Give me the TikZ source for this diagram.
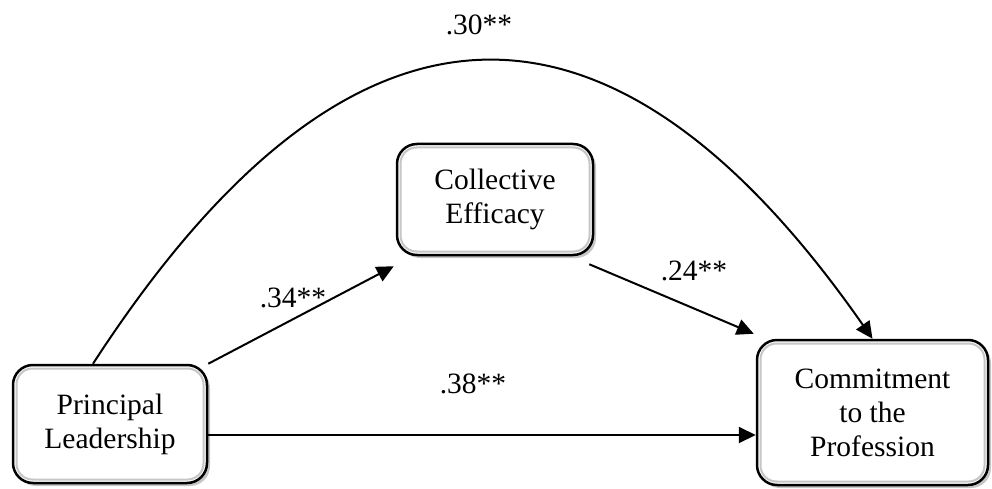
\documentclass[tikz,border=0pt]{standalone}
\usepackage{fontspec}
\setmainfont{Liberation Serif}
\usepackage{tikz}
\usetikzlibrary{arrows.meta,positioning,shadows}

\begin{document}
\begin{tikzpicture}[
    x=1pt, y=-1pt,
    varbox/.style={
        draw, line width=2.5pt, rounded corners=20pt, align=center,
        fill=white, inner sep=0pt, font=\fontsize{29.5}{34}\selectfont,
        drop shadow={shadow xshift=3pt, shadow yshift=-3pt, fill=gray!45, opacity=1},
        path picture={
            \draw[gray!45, line width=2pt, rounded corners=16pt]
                ([shift={(3.5pt,-3.5pt)}]path picture bounding box.north west)
                rectangle ([shift={(-3.5pt,3.5pt)}]path picture bounding box.south east);
        }
    },
    coef/.style={font=\fontsize{29.5}{34}\selectfont, inner sep=0pt},
    edge/.style={-{Triangle[length=17pt,width=16pt]}, line width=2pt}
]
\useasboundingbox (0,0) rectangle (992,489);

% variables
\node[varbox, minimum width=194pt, minimum height=118pt] (lead) at (110,424) {Principal\\Leadership};
\node[varbox, minimum width=196pt, minimum height=111pt] (eff) at (495,199.5) {Collective\\Efficacy};
\node[varbox, minimum width=231pt, minimum height=145pt] (comm) at (872.5,412.5) {Commitment\\to the\\Profession};

% path coefficients
\node[coef] (c_total) at (479,25) {.30**};
\node[coef] (c_a) at (293,298) {.34**};
\node[coef] (c_b) at (694,271) {.24**};
\node[coef] (c_direct) at (473,384) {.38**};

% paths
\draw[edge] (lead.north east) -- ([xshift=-2pt,yshift=-10pt]eff.south west);
\draw[edge] ([xshift=-5pt,yshift=-8pt]eff.south east) -- ([xshift=-2pt,yshift=5pt]comm.north west);
\draw[edge] ([yshift=-11pt]lead.east) -- ([yshift=-11pt]lead.east -| comm.west);
\draw[edge] ([xshift=-17pt]lead.north) .. controls (349,-31) and (609,-39) .. (comm.north);

\end{tikzpicture}
\end{document}
